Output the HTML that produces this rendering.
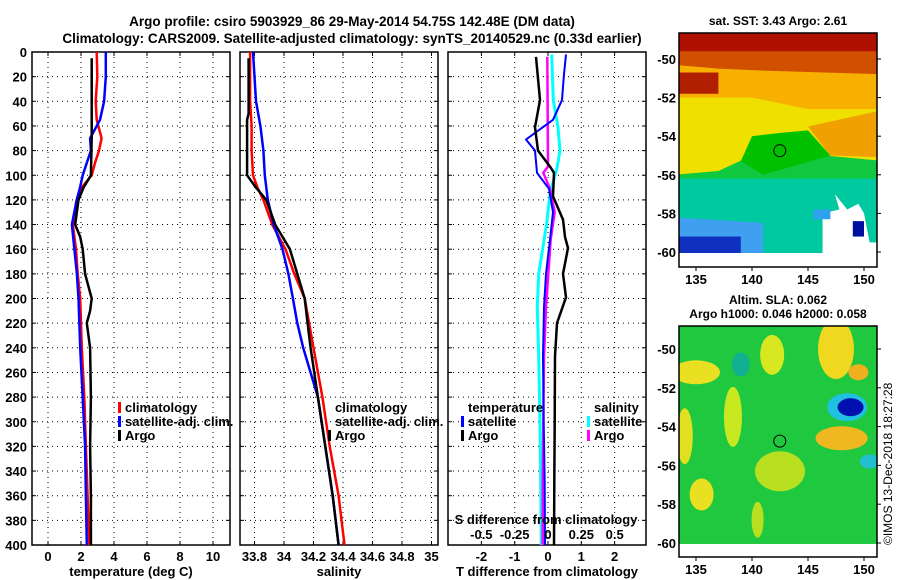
<!DOCTYPE html>
<html><head><meta charset="utf-8"><style>
body{margin:0;background:#fff;}
svg{display:block;font-family:"Liberation Sans",Arial,sans-serif;font-weight:bold;}
</style></head><body>
<svg id="fig" width="900" height="580" viewBox="0 0 900 580">
<text x="352" y="26" font-size="13.5" text-anchor="middle">Argo profile: csiro 5903929_86 29-May-2014 54.75S 142.48E (DM data)</text>
<text x="352" y="43" font-size="13.5" text-anchor="middle">Climatology: CARS2009. Satellite-adjusted climatology: synTS_20140529.nc (0.33d earlier)</text>
<g id="g1"></g>
<g id="g2"></g>
<g id="g3"></g>
<g id="m1"></g>
<g id="m2"></g>
<text transform="translate(892,545) rotate(-90)" font-size="12" font-weight="normal">©IMOS 13-Dec-2018 18:27:28</text>
</svg>
<script>
// ---- data ----
const tempDepths = [0,20,40,55,70,80,90,100,110,120,140,160,180,200,240,280,320,360,400];
const tempClim  = [2.95,2.99,2.89,2.95,3.25,3.09,2.85,2.65,2.04,1.74,1.5,1.7,1.8,1.95,2.05,2.2,2.3,2.4,2.5];
const tempSat   = [3.5,3.5,3.4,3.15,2.55,2.6,2.35,2.1,1.94,1.74,1.45,1.6,1.75,1.85,1.95,2.1,2.25,2.3,2.35];
const argoDepths = [5,60,70,100,110,120,140,150,160,180,200,210,220,240,280,320,360,400];
const tempArgo   = [2.65,2.65,2.65,2.6,2.15,1.85,1.65,1.95,2.1,2.25,2.65,2.55,2.35,2.55,2.6,2.55,2.6,2.6];
const salDepths = [0,20,40,60,80,100,110,120,140,160,180,200,220,240,280,320,360,400];
const salClim = [33.77,33.77,33.77,33.78,33.78,33.79,33.82,33.86,33.92,34.01,34.07,34.14,34.17,34.20,34.26,34.31,34.37,34.41];
const salSat  = [33.79,33.80,33.81,33.84,33.86,33.87,33.88,33.89,33.93,33.99,34.03,34.06,34.09,34.13,34.23,34.28,34.33,34.37];
const salArgoDepths = [5,50,55,100,110,120,140,160,180,200,220,240,280,320,360,400];
const salArgo = [33.76,33.76,33.75,33.75,33.81,33.88,33.94,34.04,34.09,34.14,34.16,34.18,34.23,34.28,34.33,34.37];
const dDepths = [4,39,61,80,93,98,117,136,150,159,180,199,220,247,300,350,400];
const dTArgo  = [-0.36,-0.24,-0.39,-0.3,0.06,0.18,0.15,0.45,0.51,0.6,0.45,0.54,0.27,0.21,0.2,0.19,0.18];
const dTSatDepths = [2,18,39,55,71,80,98,111,130,152,180,207,247,300,350,400];
const dTSat = [0.54,0.48,0.42,0.15,-0.66,-0.39,-0.33,0.03,0.15,0.06,-0.06,-0.12,-0.15,-0.13,-0.1,-0.09];
const dSArgoDepths = [4,93,98,111,130,152,207,247,300,350,400];
const dSArgo = [-0.005,0,-0.035,0.015,0.05,0.02,-0.015,-0.03,-0.035,-0.04,-0.04];
const dSSatDepths = [2,39,61,80,93,115,139,180,207,247,300,350,400];
const dSSat = [0.028,0.04,0.075,0.09,0.07,0.015,-0.01,-0.07,-0.08,-0.07,-0.06,-0.055,-0.05];
const depthTicks = [0,20,40,60,80,100,120,140,160,180,200,220,240,260,280,300,320,340,360,380,400];
const tempTicks = [0,2,4,6,8,10];
const salTicks = [33.8,34,34.2,34.4,34.6,34.8,35];
const salTickLabels = ["33.8","34","34.2","34.4","34.6","34.8","35"];
const dTTicks = [-2,-1,0,1,2];
const dSTicks = [-0.5,-0.25,0,0.25,0.5];
const dSTickLabels = ["-0.5","-0.25","0","0.25","0.5"];
const lonTicks = [135,140,145,150];
const latTicks = [-50,-52,-54,-56,-58,-60];

const NS="http://www.w3.org/2000/svg";
function mk(parent,tag,attrs,txt){const e=document.createElementNS(NS,tag);for(const k in attrs)e.setAttribute(k,attrs[k]);if(txt!==undefined)e.textContent=txt;parent.appendChild(e);return e;}
const PT=52,PB=545;
const yD=d=>PT+(PB-PT)*d/400;
function panel(g,x0,x1,xs,ticks,labels,xlabel,name){
  depthTicks.forEach(d=>{const l=mk(g,'line',{x1:x0,x2:x1,y1:yD(d),y2:yD(d),stroke:'#000','stroke-dasharray':'1,4','stroke-width':1});
    
    mk(g,'line',{x1:x0,x2:x0+4,y1:yD(d),y2:yD(d),stroke:'#000'});mk(g,'line',{x1:x1-4,x2:x1,y1:yD(d),y2:yD(d),stroke:'#000'});});
  ticks.forEach((t,i)=>{const x=xs(t);const l=mk(g,'line',{x1:x,x2:x,y1:PT,y2:PB,stroke:'#000','stroke-dasharray':'1,4'});
    
    mk(g,'line',{x1:x,x2:x,y1:PB-4,y2:PB,stroke:'#000'});mk(g,'line',{x1:x,x2:x,y1:PT,y2:PT+4,stroke:'#000'});
    if(labels){const tx=mk(g,'text',{x:x,y:561,'font-size':13,'text-anchor':'middle'},labels[i]);
      }});
  const r=mk(g,'rect',{x:x0,y:PT,width:x1-x0,height:PB-PT,fill:'none',stroke:'#000','stroke-width':1.5});
  
  const xl=mk(g,'text',{x:(x0+x1)/2,y:576,'font-size':13,'text-anchor':'middle'},xlabel);
  
}
function line(g,xs,vals,depths,color,w,name){
  const p=vals.map((v,i)=>xs(v).toFixed(1)+','+yD(depths[i]).toFixed(1)).join(' ');
  const l=mk(g,'polyline',{points:p,fill:'none',stroke:color,'stroke-width':w,'stroke-linejoin':'round'});
  
}
function leg(g,x,y,color,label,name){
  if(color){mk(g,'rect',{x:x-7,y:y-10,width:3,height:11,fill:color});}
  const t=mk(g,'text',{x:x,y:y,'font-size':13},label);
  
}
// Panel 1
const g1=document.getElementById('g1');
const xT=t=>48+16.5*t;
panel(g1,32,230,xT,tempTicks,tempTicks.map(String),'temperature (deg C)','temperature-panel');
depthTicks.forEach(d=>{const t=mk(g1,'text',{x:27,y:yD(d)+5,'font-size':13,'text-anchor':'end'},String(d));
  });
line(g1,xT,tempClim,tempDepths,'#f00',2.5,'temperature-climatology-line');
line(g1,xT,tempSat,tempDepths,'#00f',2.5,'temperature-satellite-line');
line(g1,xT,tempArgo,argoDepths,'#000',2.5,'temperature-argo-line');
leg(g1,125,412,'#f00','climatology','legend-climatology');
leg(g1,125,426,'#00f','satellite-adj. clim.','legend-satellite-adj');
leg(g1,125,440,'#000','Argo','legend-argo');
// Panel 2
const g2=document.getElementById('g2');
const xS=s=>254.5+147.5*(s-33.8);
panel(g2,240,438,xS,salTicks,salTickLabels,'salinity','salinity-panel');
line(g2,xS,salClim,salDepths,'#f00',2.5,'salinity-climatology-line');
line(g2,xS,salSat,salDepths,'#00f',2.5,'salinity-satellite-line');
line(g2,xS,salArgo,salArgoDepths,'#000',2.5,'salinity-argo-line');
leg(g2,335,412,null,'climatology','legend-climatology');
leg(g2,335,426,null,'satellite-adj. clim.','legend-satellite-adj');
leg(g2,335,440,'#000','Argo','legend-argo');
// Panel 3
const g3=document.getElementById('g3');
const xDT=t=>548+33.3*t;
const xDS=s=>548+133.3*s;
panel(g3,448,646,xDT,dTTicks,dTTicks.map(String),'T difference from climatology','difference-panel');
line(g3,xDS,dSSat,dSSatDepths,'#0ff',3,'salinity-diff-satellite-line');
line(g3,xDS,dSArgo,dSArgoDepths,'#f0f',2.5,'salinity-diff-argo-line');
line(g3,xDT,dTSat,dTSatDepths,'#00f',2,'temperature-diff-satellite-line');
line(g3,xDT,dTArgo,dDepths,'#000',2.5,'temperature-diff-argo-line');
leg(g3,468,412,null,'temperature','legend-temperature-title');
leg(g3,468,426,'#00f','satellite','legend-t-satellite');
leg(g3,468,440,'#000','Argo','legend-t-argo');
leg(g3,594,412,null,'salinity','legend-salinity-title');
leg(g3,594,426,'#0ff','satellite','legend-s-satellite');
leg(g3,594,440,'#f0f','Argo','legend-s-argo');
{const t=mk(g3,'text',{x:546,y:524,'font-size':13,'text-anchor':'middle'},'S difference from climatology');
}
dSTicks.forEach((s,i)=>{const t=mk(g3,'text',{x:xDS(s),y:539,'font-size':13,'text-anchor':'middle'},dSTickLabels[i]);
  });

// Maps
function map(g,y0,y1,lat50,latPx,name,title,title2,draw){
  const x0=679,x1=877;
  const lx=lon=>696+(lon-135)*11.2, ly=lat=>lat50+(-50-lat)*latPx;
  const cp=mk(g,'clipPath',{id:name+'-clip'});mk(cp,'rect',{x:x0,y:y0,width:x1-x0,height:y1-y0});
  const inner=mk(g,'g',{'clip-path':'url(#'+name+'-clip)'});
  draw(inner,lx,ly);
  const c=mk(inner,'circle',{cx:lx(142.48),cy:ly(-54.75),r:6,fill:'none',stroke:'#000','stroke-width':1});
  
  const f=mk(g,'rect',{x:x0,y:y0,width:x1-x0,height:y1-y0,fill:'none',stroke:'#000','stroke-width':1.5});
  
  lonTicks.forEach(l=>{mk(g,'line',{x1:lx(l),x2:lx(l),y1:y1,y2:y1+4,stroke:'#000'});
    const t=mk(g,'text',{x:lx(l),y:y1+17,'font-size':13,'text-anchor':'middle'},String(l));
    });
  latTicks.forEach(l=>{mk(g,'line',{x1:x1,x2:x1+4,y1:ly(l),y2:ly(l),stroke:'#000'});
    const t=mk(g,'text',{x:x0-3,y:ly(l)+5,'font-size':13,'text-anchor':'end'},String(l));
    });
  const tt=mk(g,'text',{x:778,y:title2?y0-22:y0-8,'font-size':12,'text-anchor':'middle'},title);
  
  if(title2){const t2=mk(g,'text',{x:778,y:y0-8,'font-size':12,'text-anchor':'middle'},title2);
    }
}
function poly(g,lx,ly,pts,fill){mk(g,'polygon',{points:pts.map(p=>lx(p[0])+','+ly(p[1])).join(' '),fill:fill});}
map(document.getElementById('m1'),33,267,59,19.3,'sst-map','sat. SST: 3.43 Argo: 2.61',null,(g,lx,ly)=>{
  mk(g,'rect',{x:679,y:33,width:198,height:234,fill:'#fff'});
  poly(g,lx,ly,[[133,-48],[152,-48],[152,-60.05],[133,-60.05]],'#00c8a0');
  poly(g,lx,ly,[[133,-48],[152,-48],[152,-56.2],[133,-56.2]],'#10c840');
  poly(g,lx,ly,[[133,-48],[152,-48],[152,-55.3],[146.5,-55],[145,-53.8],[143,-54],[140,-55],[137,-55.8],[133,-56]],'#f0e000');
  poly(g,lx,ly,[[133,-48],[152,-48],[152,-52.6],[145,-52.6],[140,-52],[133,-52]],'#f8b000');
  poly(g,lx,ly,[[145,-53.5],[152,-52.6],[152,-55.1],[147,-55]],'#f0a000');
  poly(g,lx,ly,[[133,-48],[152,-48],[152,-50.8],[141,-50.6],[137,-50.5],[133,-50.3]],'#d05000');
  poly(g,lx,ly,[[133,-48],[152,-48],[152,-49.6],[133,-49.6]],'#b01000');
  poly(g,lx,ly,[[133,-50.7],[137,-50.7],[137,-51.8],[133,-51.8]],'#b02000');
  poly(g,lx,ly,[[140,-54],[143,-53.8],[145,-53.7],[147,-55],[141,-56],[139,-55.3]],'#00c000');
  poly(g,lx,ly,[[133,-58.2],[141,-58.5],[141,-60.05],[133,-60.05]],'#40a0f0');
  poly(g,lx,ly,[[133,-59.2],[139,-59.2],[139,-60.05],[133,-60.05]],'#1030c0');
  poly(g,lx,ly,[[147.4,-57],[147.8,-57.8],[146.3,-58],[146.3,-60.3],[152,-60.3],[152,-59.5],[150.5,-59.5],[150,-58],[149.5,-57.5],[148.5,-57.8]],'#fff');
  poly(g,lx,ly,[[145.5,-57.8],[147,-57.8],[147,-58.3],[145.5,-58.3]],'#30a0f0');
  poly(g,lx,ly,[[149,-58.4],[150,-58.4],[150,-59.2],[149,-59.2]],'#0010a0');
});
map(document.getElementById('m2'),326,557,349,19.4,'sla-map','Altim. SLA: 0.062','Argo h1000: 0.046 h2000: 0.058',(g,lx,ly)=>{
  mk(g,'rect',{x:679,y:326,width:198,height:231,fill:'#fff'});
  poly(g,lx,ly,[[133,-48],[152,-48],[152,-60.05],[133,-60.05]],'#20c840');
  mk(g,'ellipse',{cx:lx(135),cy:ly(-51.2),rx:24,ry:12,fill:'#e8e020'});
  mk(g,'ellipse',{cx:lx(134),cy:ly(-54.5),rx:8,ry:28,fill:'#e0e020'});
  mk(g,'ellipse',{cx:lx(138.3),cy:ly(-53.5),rx:9,ry:30,fill:'#c8e820'});
  mk(g,'ellipse',{cx:lx(141.8),cy:ly(-50.3),rx:12,ry:20,fill:'#d8e820'});
  mk(g,'ellipse',{cx:lx(142.5),cy:ly(-56.3),rx:25,ry:20,fill:'#b8e020'});
  mk(g,'ellipse',{cx:lx(135.5),cy:ly(-57.5),rx:12,ry:16,fill:'#e8e020'});
  mk(g,'ellipse',{cx:lx(140.5),cy:ly(-58.8),rx:6,ry:18,fill:'#b8e020'});
  mk(g,'ellipse',{cx:lx(147.5),cy:ly(-50),rx:18,ry:30,fill:'#f0d820'});
  mk(g,'ellipse',{cx:lx(149.5),cy:ly(-51.2),rx:10,ry:8,fill:'#f0b020'});
  mk(g,'ellipse',{cx:lx(148),cy:ly(-54.6),rx:26,ry:12,fill:'#f0b820'});
  mk(g,'ellipse',{cx:lx(148.5),cy:ly(-53),rx:20,ry:14,fill:'#20c0e0'});
  mk(g,'ellipse',{cx:lx(148.8),cy:ly(-53),rx:13,ry:9,fill:'#0010b0'});
  mk(g,'ellipse',{cx:lx(139),cy:ly(-50.8),rx:9,ry:12,fill:'#10b090'});
  mk(g,'ellipse',{cx:lx(150.5),cy:ly(-55.8),rx:10,ry:7,fill:'#20c0d0'});
  mk(g,'rect',{x:679,y:ly(-60.05),width:198,height:40,fill:'#fff'});
});
</script>
</body></html>
